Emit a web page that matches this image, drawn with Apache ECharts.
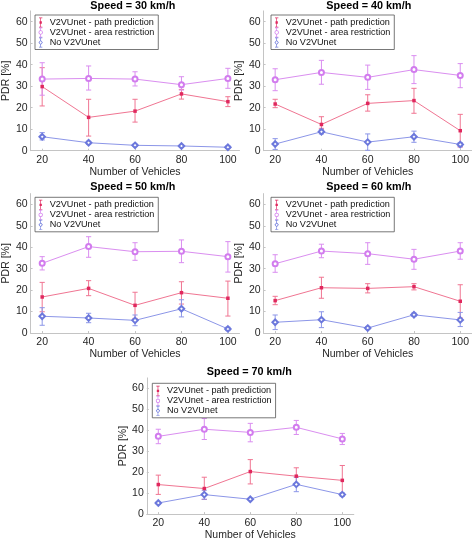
<!DOCTYPE html>
<html>
<head>
<meta charset="utf-8">
<script src="https://cdn.jsdelivr.net/npm/echarts@6/dist/echarts.min.js"></script>
<style>
html,body{margin:0;padding:0;background:#fff;}
#chart{width:472px;height:542px;}
</style>
</head>
<body>
<div id="chart"></div>
<script>
// ---------- data ----------
const vehicles = [20, 40, 60, 80, 100];
const yTicks = [0, 10, 20, 30, 40, 50, 60];
const speedTitles = ['Speed = 30 km/h', 'Speed = 40 km/h', 'Speed = 50 km/h', 'Speed = 60 km/h', 'Speed = 70 km/h'];
const seriesNames = ['V2VUnet - path prediction', 'V2VUnet - area restriction', 'No V2VUnet'];
const xName = 'Number of Vehicles';
const yName = 'PDR [%]';

// 30 km/h
const path30 = [29.8, 15.5, 18.4, 26.4, 22.8];
const path30Err = [[20.8, 38.6], [6.8, 23.9], [13.3, 23.9], [24.0, 28.5], [20.5, 25.1]];
const area30 = [33.3, 33.6, 33.3, 30.7, 33.6];
const area30Err = [[25.8, 40.9], [28.2, 39.4], [30.1, 36.7], [28.2, 34.4], [29.0, 38.3]];
const none30 = [6.5, 3.7, 2.5, 2.2, 1.6];
const none30Err = [[5.0, 8.4], [3.0, 4.4], [2.0, 3.0], [1.7, 2.7], [1.0, 2.2]];
// 40 km/h
const path40 = [21.7, 12.2, 22.0, 23.3, 9.3];
const path40Err = [[20.0, 23.9], [10.4, 15.8], [18.4, 26.0], [17.4, 29.0], [1.7, 16.9]];
const area40 = [33.0, 36.4, 34.1, 37.7, 35.0];
const area40Err = [[27.9, 38.1], [30.9, 42.0], [28.5, 39.8], [31.2, 44.2], [29.3, 40.5]];
const none40 = [3.1, 8.8, 4.0, 6.5, 2.9];
const none40Err = [[0.6, 5.6], [7.8, 9.9], [0.2, 7.8], [3.9, 9.1], [1.9, 3.7]];
// 50 km/h
const path50 = [16.8, 20.8, 12.9, 18.8, 16.2];
const path50Err = [[9.9, 23.6], [17.4, 24.4], [6.8, 19.0], [13.5, 23.9], [7.9, 24.2]];
const area50 = [32.5, 40.3, 37.9, 38.1, 35.6];
const area50Err = [[29.4, 35.6], [35.3, 44.9], [33.9, 42.1], [32.8, 43.4], [28.4, 42.6]];
const none50 = [7.8, 7.0, 5.9, 11.3, 1.9];
const none50Err = [[3.6, 11.8], [4.8, 9.2], [3.4, 8.4], [7.5, 15.5], [1.1, 2.7]];
// 60 km/h
const path60 = [15.1, 21.1, 20.8, 21.6, 14.8];
const path60Err = [[13.2, 17.1], [16.2, 26.0], [18.7, 23.0], [20.1, 23.0], [7.0, 22.5]];
const area60 = [32.3, 38.2, 37.0, 34.4, 38.2];
const area60Err = [[28.3, 36.5], [35.1, 41.4], [32.0, 42.1], [29.7, 39.0], [34.4, 42.1]];
const none60 = [5.0, 6.2, 2.3, 8.5, 6.1];
const none60Err = [[1.6, 8.4], [2.5, 9.9], [1.7, 2.9], [7.7, 9.3], [3.0, 9.6]];
// 70 km/h
const path70 = [14.1, 12.2, 20.3, 18.1, 16.1];
const path70Err = [[9.4, 18.6], [7.0, 17.6], [14.4, 26.0], [14.2, 22.1], [9.0, 23.2]];
const area70 = [37.1, 40.5, 39.0, 41.4, 35.9];
const area70Err = [[33.6, 40.5], [35.6, 45.6], [34.5, 43.3], [38.0, 44.7], [33.2, 38.5]];
const none70 = [5.3, 9.3, 7.1, 14.2, 9.3];
const none70Err = [[4.8, 5.8], [7.1, 11.4], [6.6, 7.6], [10.7, 17.6], [8.5, 10.1]];

const panelData = [
  [[path30, path30Err], [area30, area30Err], [none30, none30Err]],
  [[path40, path40Err], [area40, area40Err], [none40, none40Err]],
  [[path50, path50Err], [area50, area50Err], [none50, none50Err]],
  [[path60, path60Err], [area60, area60Err], [none60, none60Err]],
  [[path70, path70Err], [area70, area70Err], [none70, none70Err]]
];

// ---------- layout & style ----------
const layout = [
  { left: 28.3, top: 10.9, width: 211.2, height: 139.8, tx: 132.8, ty: 0.5, lx: 35, ly: 15 },
  { left: 263.6, top: 10.9, width: 210.8, height: 139.8, tx: 368.8, ty: 0.5, lx: 271, ly: 15 },
  { left: 28.3, top: 193.6, width: 211.2, height: 139.4, tx: 132.8, ty: 182, lx: 35, ly: 197.3 },
  { left: 263.6, top: 193.6, width: 210.8, height: 139.4, tx: 368.8, ty: 182, lx: 271, ly: 197.3 },
  { left: 146.8, top: 377.9, width: 207, height: 140.1, tx: 249.3, ty: 366.5, lx: 152.3, ly: 383.3 }
];
const styles = [
  { line: '#f07592', mark: '#e0285e', symbol: 'rect', size: 3.5,
    icon: 'path://M3,0H7V0.8H5.4V11.2H7V12H3V11.2H4.6V0.8H3ZM3.6,4.6H6.4V7.4H3.6Z' },
  { line: '#da8ef0', mark: '#d27cee', symbol: 'emptyCircle', size: 5,
    icon: 'path://M3,0H7V0.8H5.4V3.4H4.6V0.8H3ZM4.6,8.6H5.4V11.2H7V12H3V11.2H4.6ZM2.4,6A2.6,2.6 0 1,1 7.6,6A2.6,2.6 0 1,1 2.4,6ZM3.3,6A1.7,1.7 0 1,0 6.7,6A1.7,1.7 0 1,0 3.3,6Z' },
  { line: '#8c96e8', mark: '#6c78dc', symbol: 'emptyDiamond', size: 5.5,
    icon: 'path://M3,0H7V0.8H5.4V3.2H4.6V0.8H3ZM4.6,8.8H5.4V11.2H7V12H3V11.2H4.6ZM5,3.0L7.6,6L5,9L2.4,6ZM5,4.3L3.5,6L5,7.7L6.5,6Z' }
];
const fontFam = 'Liberation Sans, Arial, sans-serif';
const axisGray = '#c4c4c4';
const labelCol = '#262626';

const grid = [], xAxis = [], yAxis = [], title = [], legend = [], series = [];

layout.forEach((L, i) => {
  grid.push({ left: L.left, top: L.top, width: L.width, height: L.height, containLabel: false });
  title.push({
    text: speedTitles[i], left: L.tx, top: L.ty, textAlign: 'center', padding: 0,
    textStyle: { fontFamily: fontFam, fontSize: 10.8, fontWeight: 'bold', color: '#000' }
  });
  xAxis.push({
    type: 'value', gridIndex: i, min: 15, max: 105,
    name: xName, nameLocation: 'middle', nameGap: 15.5,
    nameTextStyle: { fontFamily: fontFam, fontSize: 10.5, color: labelCol },
    axisLine: { show: true, onZero: false, lineStyle: { color: axisGray, width: 1 } },
    axisTick: { show: true, inside: true, length: 2, customValues: vehicles, lineStyle: { color: axisGray } },
    axisLabel: { customValues: vehicles, margin: 4, fontFamily: fontFam, fontSize: 10.5, color: labelCol },
    splitLine: { show: false }
  });
  yAxis.push({
    type: 'value', gridIndex: i, min: 0, max: 65,
    name: yName, nameLocation: 'middle', nameGap: 15,
    nameTextStyle: { fontFamily: fontFam, fontSize: 10.5, color: labelCol },
    axisLine: { show: true, lineStyle: { color: axisGray, width: 1 } },
    axisTick: { show: true, inside: true, length: 2, customValues: yTicks, lineStyle: { color: axisGray } },
    axisLabel: { customValues: yTicks, margin: 3, fontFamily: fontFam, fontSize: 10.5, color: labelCol },
    splitLine: { show: false }
  });
  legend.push({
    left: L.lx, top: L.ly, orient: 'vertical', itemWidth: 8, itemHeight: 10, itemGap: 0,
    padding: [2.5, 4, 2, 3.5], borderColor: '#555', borderWidth: 0.8, backgroundColor: '#fff',
    selectedMode: false,
    textStyle: { fontFamily: fontFam, fontSize: 9.1, color: '#111' },
    data: seriesNames.map((n, k) => ({ name: n, icon: styles[k].icon }))
  });
  panelData[i].forEach((pair, k) => {
    const st = styles[k];
    const mean = pair[0], err = pair[1];
    series.push({
      name: seriesNames[k], type: 'line', xAxisIndex: i, yAxisIndex: i,
      data: vehicles.map((v, j) => [v, mean[j]]),
      symbol: st.symbol, symbolSize: st.size, showAllSymbol: true,
      lineStyle: { color: st.line, width: 1 },
      itemStyle: { color: st.mark, borderWidth: 0.9 },
      z: 3, silent: true, animation: false
    });
    series.push({
      name: seriesNames[k], type: 'custom', xAxisIndex: i, yAxisIndex: i,
      data: vehicles.map((v, j) => [v, err[j][0], err[j][1]]),
      encode: { x: 0, y: [1, 2] },
      z: 2, silent: true, animation: false,
      renderItem: (params, api) => {
        const x = api.value(0);
        const lo = api.coord([x, api.value(1)]);
        const hi = api.coord([x, api.value(2)]);
        const cw = 2.6;
        const s = { stroke: st.line, lineWidth: 1 };
        return {
          type: 'group', children: [
            { type: 'line', shape: { x1: lo[0], y1: lo[1], x2: hi[0], y2: hi[1] }, style: s },
            { type: 'line', shape: { x1: lo[0] - cw, y1: lo[1], x2: lo[0] + cw, y2: lo[1] }, style: s },
            { type: 'line', shape: { x1: hi[0] - cw, y1: hi[1], x2: hi[0] + cw, y2: hi[1] }, style: s }
          ]
        };
      }
    });
  });
});

const chart = echarts.init(document.getElementById('chart'), null, { renderer: 'canvas' });
chart.setOption({
  backgroundColor: '#fff',
  animation: false,
  title, grid, xAxis, yAxis, legend, series
});
</script>
</body>
</html>
